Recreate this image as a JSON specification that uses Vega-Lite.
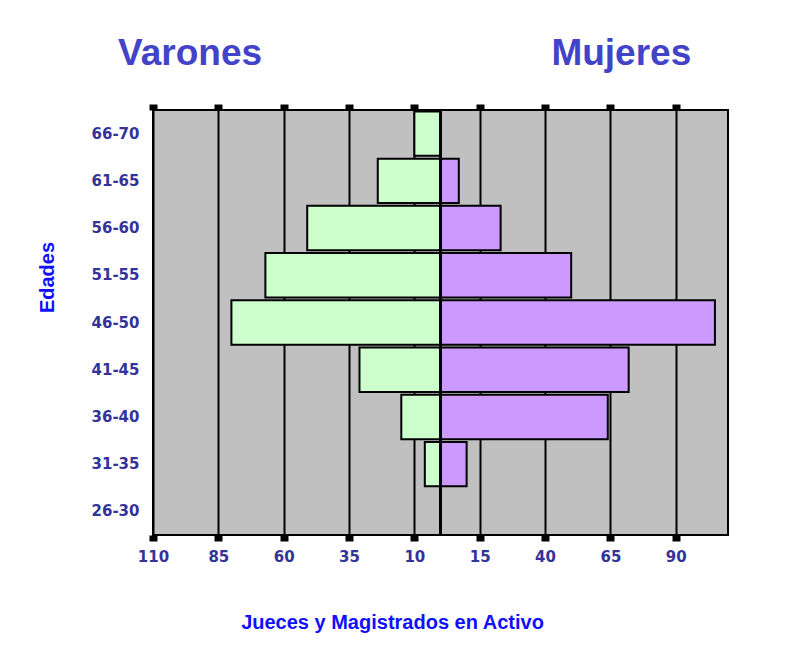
{
  "$schema": "https://vega.github.io/schema/vega-lite/v6.json",
  "width": 575,
  "height": 425,
  "autosize": "none",
  "padding": {"left": 153, "top": 110, "right": 61, "bottom": 111},
  "background": "white",
  "config": {
    "view": {"fill": "#c0c0c0", "stroke": "#000000", "strokeWidth": 2}
  },
  "data": {
    "values": [
      {"edad": "66-70", "sexo": "Varones", "valor": -10},
      {"edad": "61-65", "sexo": "Varones", "valor": -24},
      {"edad": "56-60", "sexo": "Varones", "valor": -51},
      {"edad": "51-55", "sexo": "Varones", "valor": -67},
      {"edad": "46-50", "sexo": "Varones", "valor": -80},
      {"edad": "41-45", "sexo": "Varones", "valor": -31},
      {"edad": "36-40", "sexo": "Varones", "valor": -15},
      {"edad": "31-35", "sexo": "Varones", "valor": -6},
      {"edad": "61-65", "sexo": "Mujeres", "valor": 7},
      {"edad": "56-60", "sexo": "Mujeres", "valor": 23},
      {"edad": "51-55", "sexo": "Mujeres", "valor": 50},
      {"edad": "46-50", "sexo": "Mujeres", "valor": 105},
      {"edad": "41-45", "sexo": "Mujeres", "valor": 72},
      {"edad": "36-40", "sexo": "Mujeres", "valor": 64},
      {"edad": "31-35", "sexo": "Mujeres", "valor": 10}
    ]
  },
  "layer": [
    {
      "mark": {"type": "bar", "stroke": "#000000", "strokeWidth": 2},
      "encoding": {
        "y": {
          "field": "edad",
          "type": "nominal",
          "scale": {
            "domain": ["66-70", "61-65", "56-60", "51-55", "46-50", "41-45", "36-40", "31-35", "26-30"],
            "paddingInner": 0.06,
            "paddingOuter": 0.03
          },
          "axis": {
            "title": "Edades",
            "titleFont": "Liberation Sans",
            "titleFontSize": 20,
            "titleFontWeight": "bold",
            "titleColor": "#1010ff",
            "titlePadding": 34,
            "titleY": 167,
            "labelFont": "DejaVu Sans",
            "labelFontSize": 15,
            "labelFontWeight": "bold",
            "labelColor": "#333399",
            "labelPadding": 14,
            "ticks": false,
            "domain": false
          }
        },
        "x": {
          "field": "valor",
          "type": "quantitative",
          "scale": {"domain": [-110, 110], "nice": false, "zero": false},
          "axis": {
            "orient": "bottom",
            "title": "Jueces y Magistrados en Activo",
            "titleFont": "Liberation Sans",
            "titleFontSize": 20,
            "titleFontWeight": "bold",
            "titleColor": "#1010ff",
            "titleX": 239,
            "titleY": 87,
            "titleBaseline": "middle",
            "values": [-110, -85, -60, -35, -10, 15, 40, 65, 90],
            "labelExpr": "abs(datum.value)",
            "labelFont": "DejaVu Sans",
            "labelFontSize": 15,
            "labelFontWeight": "bold",
            "labelColor": "#333399",
            "labelPadding": 8,
            "labelFlush": false,
            "labelOverlap": false,
            "grid": true,
            "gridColor": "#000000",
            "gridWidth": 2,
            "gridOpacity": 1,
            "ticks": true,
            "tickColor": "#000000",
            "tickSize": 6,
            "tickWidth": 8,
            "domain": false
          }
        },
        "x2": {"datum": 0},
        "color": {
          "field": "sexo",
          "type": "nominal",
          "scale": {"domain": ["Varones", "Mujeres"], "range": ["#ccffcc", "#cc99ff"]},
          "legend": null
        }
      }
    },
    {
      "mark": {"type": "rule", "color": "#000000", "strokeWidth": 2},
      "encoding": {
        "x": {
          "datum": 0,
          "type": "quantitative",
          "axis": {
            "orient": "top",
            "title": null,
            "values": [-110, -96, -85, -60, -35, -10, 15, 40, 65, 69, 90],
            "labelExpr": "datum.value == -96 ? 'Varones' : (datum.value == 69 ? 'Mujeres' : '')",
            "labelFont": "Liberation Sans",
            "labelFontSize": 37,
            "labelFontWeight": "bold",
            "labelColor": "#4343c8",
            "labelBaseline": "alphabetic",
            "labelPadding": 40,
            "labelFlush": false,
            "labelOverlap": false,
            "labelBound": false,
            "grid": false,
            "ticks": true,
            "tickSize": 6,
            "tickWidth": 8,
            "tickColor": {"condition": {"test": "datum.value == -96 || datum.value == 69", "value": "transparent"}, "value": "#000000"},
            "domain": false
          }
        }
      }
    }
  ],
  "resolve": {"axis": {"x": "independent"}}
}
